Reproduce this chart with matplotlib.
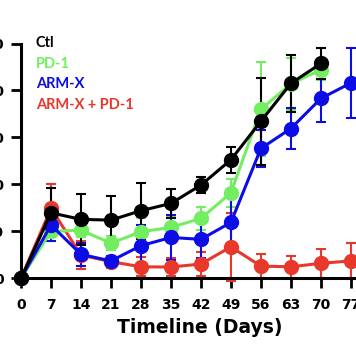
import matplotlib.pyplot as plt
import numpy as np

# timeline (days)
days = [0, 7, 14, 21, 28, 35, 42, 49, 56, 63, 70, 77]

# mean values per group (Ctl stops at day 70)
ctl = [0, 279, 251, 248, 288, 319, 397, 505, 669, 830, 915]
ctl_err = [0, 105, 108, 102, 120, 60, 33, 55, 185, 123, 66]

pd1 = [0, 200, 205, 150, 198, 217, 255, 364, 720, 828, 889]
pd1_err = [0, 40, 30, 30, 60, 45, 50, 60, 200, 110, 45]

armx = [0, 227, 102, 74, 139, 174, 166, 238, 553, 638, 766, 832]
armx_err = [0, 67, 50, 22, 90, 95, 80, 115, 80, 88, 100, 148]

combo = [0, 298, 99, 71, 49, 48, 61, 134, 52, 49, 64, 74]
combo_err = [0, 102, 60, 25, 40, 37, 52, 145, 52, 46, 62, 75]

labels = ["Ctl", "PD-1", "ARM-X", "ARM-X + PD-1"]
colors = ["#000000", "#72ee60", "#0c0ce6", "#e8382c"]

yticks = [0, 200, 400, 600, 800, 1000]
xticks = days

fig = plt.figure(figsize=(3.56, 3.64), dpi=100)
ax = fig.add_axes([0.059, 0.2354, 0.941, 0.645])

series = [(combo, combo_err, colors[3]),
          (pd1, pd1_err, colors[1]),
          (armx, armx_err, colors[2]),
          (ctl, ctl_err, colors[0])]

for vals, errs, c in series:
    x = days[:len(vals)]
    ax.errorbar(x, vals, yerr=errs, color=c, lw=2.2, marker="o", ms=10,
                elinewidth=1.5, capsize=3.5, capthick=1.5, clip_on=False)

ax.set_xlim(0, 78.2)
ax.set_ylim(0, 1000)
ax.set_xticks(xticks)
ax.set_yticks(yticks)
ax.tick_params(width=2, length=7, labelsize=10, pad=5)
ax.tick_params(axis="x", pad=7)
for lab in ax.get_xticklabels() + ax.get_yticklabels():
    lab.set_fontweight("bold")

for s in ["top", "right"]:
    ax.spines[s].set_visible(False)
for s in ["left", "bottom"]:
    ax.spines[s].set_linewidth(2.2)

ax.set_xlabel("Timeline (Days)", fontsize=13.5, fontweight="bold")
ax.xaxis.set_label_coords(0.534, -0.17)

# text-only legend
for i, (lab, c) in enumerate(zip(labels, colors)):
    fig.text(36 / 356, 1 - (43 + i * 20.7) / 364, lab, color=c,
             fontsize=10.5, fontweight="bold", family="Lato", va="center")

fig.savefig("out.png", dpi=100)
